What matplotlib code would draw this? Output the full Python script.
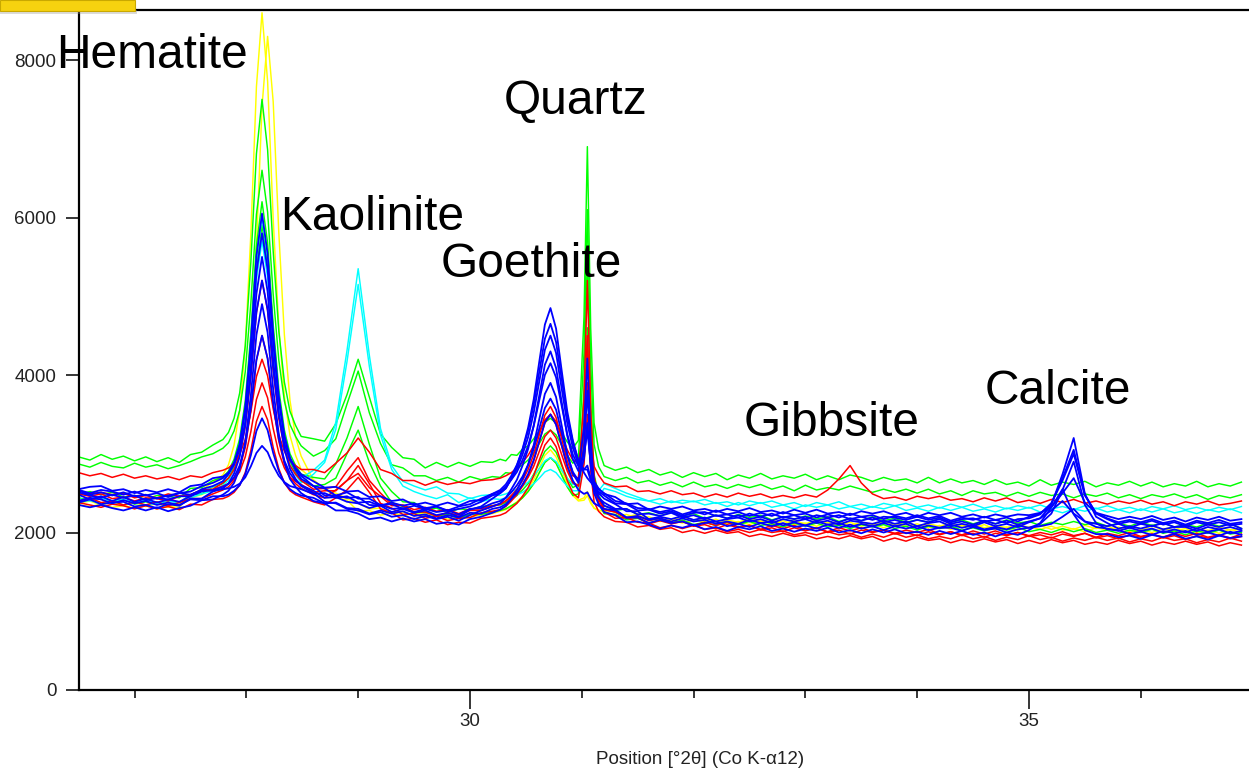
import numpy as np
import matplotlib
matplotlib.use('Agg')
import matplotlib.pyplot as plt
from matplotlib.patches import Rectangle
from matplotlib.ticker import MultipleLocator, FixedLocator

plt.rcParams['font.family'] = ['Liberation Sans', 'DejaVu Sans']

# scan positions (deg 2theta, Co K-alpha), finer steps across the peaks
two_theta = np.concatenate([
    np.round(np.arange(26.5, 27.75, 0.1), 2),
    np.round(np.arange(27.79, 28.5, 0.05), 2),
    np.round(np.arange(28.6, 30.25, 0.1), 2),
    np.round(np.arange(30.27, 31.0, 0.05), 2),
    [31.02, 31.05, 31.08, 31.11, 31.15],
    np.round(np.arange(31.2, 36.95, 0.1), 2),
])

# ---- counts, one list per pattern ----
blue_1 = [2480, 2420, 2460, 2400, 2450, 2390, 2430, 2380, 2420, 2390, 2460, 2550, 2590,
          2650, 2740, 2860, 3120, 3590, 4420, 5510, 6050, 5540, 4530, 3730, 3230, 2940, 2790, 2680,
          2590, 2470, 2470, 2440, 2450, 2350, 2340, 2260, 2300, 2250, 2280, 2220, 2250, 2200, 2290, 2330, 2430,
          2500, 2560, 2690, 2850, 3060, 3330, 3690, 4170, 4640, 4850, 4590, 4060, 3540, 3170, 2910,
          2800, 2800, 2660, 2560, 2500,
          2430, 2360, 2270, 2270, 2170, 2200, 2170, 2210, 2160, 2190,
          2140, 2170, 2190, 2140, 2170, 2120, 2170, 2140, 2170, 2120,
          2150, 2100, 2150, 2130, 2110, 2150, 2110, 2140, 2080, 2120,
          2140, 2080, 2110, 2080, 2130, 2080, 2110, 2070, 2130, 2180,
          2350, 2740, 3200, 2490, 2200, 2120, 2050, 2080, 2050, 2090,
          2040, 2070, 2070, 2020, 2070, 2040, 2070, 2030]
blue_2 = [2530, 2480, 2510, 2470, 2510, 2460, 2480, 2430, 2470, 2500, 2520, 2590, 2630,
          2690, 2760, 2890, 3120, 3550, 4310, 5300, 5800, 5340, 4410, 3680, 3220, 2950, 2820, 2720,
          2590, 2560, 2470, 2510, 2430, 2430, 2350, 2360, 2300, 2340, 2300, 2330, 2270, 2300, 2330, 2390, 2470,
          2500, 2560, 2680, 2810, 2990, 3210, 3520, 3920, 4320, 4500, 4280, 3830, 3390, 3080, 2860,
          2800, 2850, 2690, 2580, 2520,
          2470, 2370, 2360, 2280, 2290, 2240, 2270, 2210, 2250, 2260,
          2210, 2230, 2190, 2240, 2200, 2240, 2190, 2220, 2170, 2220,
          2190, 2220, 2170, 2200, 2160, 2200, 2190, 2160, 2200, 2160,
          2190, 2130, 2170, 2180, 2140, 2160, 2120, 2170, 2180, 2230,
          2370, 2690, 3050, 2480, 2240, 2170, 2110, 2140, 2110, 2150,
          2100, 2130, 2080, 2130, 2100, 2130, 2090, 2110]
blue_3 = [2380, 2420, 2360, 2380, 2390, 2330, 2350, 2310, 2360, 2340, 2430, 2430, 2520,
          2560, 2620, 2750, 2960, 3370, 4090, 5030, 5500, 5060, 4190, 3500, 3060, 2810, 2680, 2590,
          2500, 2390, 2370, 2300, 2280, 2230, 2260, 2200, 2220, 2170, 2210, 2170, 2200, 2150, 2220, 2280, 2330,
          2370, 2440, 2550, 2670, 2850, 3060, 3360, 3740, 4130, 4300, 4090, 3660, 3230, 2930, 2780,
          3340, 4210, 3180, 2630, 2450,
          2340, 2290, 2190, 2190, 2120, 2160, 2120, 2140, 2090, 2120,
          2140, 2080, 2110, 2070, 2120, 2080, 2120, 2070, 2090, 2050,
          2100, 2060, 2100, 2050, 2080, 2030, 2080, 2050, 2080, 2030,
          2060, 2060, 2020, 2070, 2030, 2050, 2000, 2040, 2060, 2110,
          2240, 2540, 2900, 2350, 2120, 2040, 2030, 1980, 2010, 1970,
          2020, 1990, 2020, 1970, 2000, 1960, 2010, 1970]
blue_4 = [2550, 2580, 2590, 2530, 2550, 2500, 2540, 2510, 2550, 2510, 2590, 2610, 2690,
          2710, 2760, 2870, 3050, 3400, 4010, 4800, 5200, 4830, 4090, 3500, 3130, 2920, 2820, 2740,
          2650, 2570, 2580, 2520, 2530, 2450, 2460, 2400, 2420, 2350, 2380, 2340, 2380, 2340, 2400, 2410, 2490,
          2520, 2580, 2670, 2770, 2920, 3100, 3350, 3680, 4000, 4150, 3970, 3610, 3250, 2990, 2840,
          2990, 3290, 2880, 2650, 2560,
          2490, 2450, 2360, 2370, 2290, 2330, 2300, 2330, 2280, 2300,
          2260, 2300, 2270, 2310, 2260, 2280, 2240, 2290, 2250, 2290,
          2240, 2260, 2220, 2270, 2240, 2270, 2220, 2250, 2200, 2250,
          2220, 2250, 2200, 2230, 2190, 2230, 2200, 2230, 2220, 2250,
          2320, 2500, 2690, 2380, 2250, 2210, 2170, 2200, 2170, 2210,
          2160, 2190, 2140, 2190, 2160, 2200, 2150, 2170]
blue_5 = [2350, 2320, 2350, 2310, 2280, 2320, 2280, 2320, 2270, 2310, 2340, 2410, 2420,
          2480, 2530, 2630, 2810, 3150, 3740, 4510, 4900, 4540, 3820, 3250, 2890, 2680, 2580, 2500,
          2400, 2370, 2280, 2280, 2240, 2170, 2190, 2140, 2180, 2140, 2170, 2110, 2130, 2100, 2170, 2200, 2250,
          2290, 2340, 2430, 2540, 2680, 2860, 3110, 3440, 3760, 3900, 3720, 3360, 3000, 2750, 2630,
          3090, 3800, 2960, 2500, 2360,
          2260, 2220, 2130, 2140, 2100, 2050, 2090, 2060, 2100, 2040,
          2070, 2020, 2070, 2040, 2080, 2020, 2050, 2010, 2050, 2020,
          2060, 2000, 2030, 1990, 2040, 2000, 2040, 1990, 2010, 1970,
          2020, 1980, 2020, 1970, 2000, 1950, 2000, 1970, 2030, 2120,
          2320, 2550, 2230, 2030, 1980, 1980, 1940, 1960, 1920, 1970,
          1940, 1980, 1920, 1950, 1910, 1960, 1930, 1950]
blue_6 = [2510, 2470, 2440, 2480, 2440, 2470, 2410, 2440, 2420, 2460, 2460, 2520, 2540,
          2580, 2620, 2700, 2850, 3110, 3580, 4190, 4500, 4210, 3640, 3190, 2910, 2750, 2660, 2600,
          2530, 2440, 2450, 2390, 2370, 2310, 2350, 2300, 2310, 2260, 2300, 2260, 2280, 2230, 2300, 2310, 2370,
          2400, 2440, 2510, 2600, 2710, 2860, 3060, 3320, 3580, 3700, 3560, 3270, 2980, 2770, 2660,
          2940, 3390, 2840, 2540, 2440,
          2380, 2300, 2300, 2230, 2240, 2210, 2250, 2190, 2220, 2170,
          2220, 2180, 2220, 2170, 2200, 2150, 2200, 2170, 2200, 2150,
          2180, 2130, 2180, 2150, 2190, 2130, 2160, 2120, 2160, 2130,
          2170, 2110, 2140, 2100, 2150, 2110, 2150, 2100, 2140, 2180,
          2280, 2400, 2240, 2140, 2110, 2080, 2110, 2060, 2110, 2080,
          2120, 2070, 2090, 2050, 2100, 2070, 2110, 2050]
blue_7 = [2400, 2440, 2420, 2370, 2410, 2370, 2400, 2350, 2380, 2350, 2420, 2410, 2460,
          2460, 2480, 2530, 2600, 2740, 2980, 3290, 3450, 3300, 3010, 2780, 2630, 2550, 2500, 2470,
          2440, 2370, 2380, 2310, 2300, 2240, 2280, 2240, 2270, 2210, 2230, 2180, 2220, 2190, 2250, 2240, 2300,
          2320, 2360, 2430, 2500, 2610, 2740, 2920, 3160, 3400, 3500, 3370, 3110, 2850, 2660, 2540,
          2490, 2510, 2430, 2370, 2340,
          2300, 2280, 2190, 2210, 2160, 2180, 2140, 2180, 2140, 2160,
          2110, 2140, 2110, 2160, 2120, 2140, 2090, 2130, 2090, 2140,
          2100, 2120, 2070, 2110, 2080, 2120, 2080, 2110, 2050, 2090,
          2060, 2100, 2060, 2090, 2040, 2070, 2040, 2090, 2060, 2080,
          2110, 2200, 2300, 2140, 2070, 2050, 2020, 2060, 2020, 2050,
          2000, 2040, 2000, 2050, 2010, 2040, 1990, 2020]
blue_8 = [2540, 2500, 2540, 2520, 2480, 2520, 2470, 2500, 2450, 2500, 2480, 2540, 2530,
          2550, 2560, 2580, 2620, 2700, 2840, 3010, 3100, 3020, 2850, 2720, 2640, 2590, 2570, 2550,
          2490, 2500, 2440, 2460, 2380, 2390, 2340, 2380, 2340, 2370, 2310, 2330, 2280, 2330, 2360, 2430, 2490,
          2540, 2610, 2720, 2860, 3050, 3290, 3620, 4040, 4460, 4650, 4420, 3950, 3480, 3150, 2910,
          2760, 2690, 2640, 2590, 2550,
          2500, 2400, 2370, 2310, 2300, 2260, 2290, 2230, 2270, 2230,
          2280, 2230, 2260, 2210, 2250, 2210, 2260, 2220, 2240, 2190,
          2230, 2190, 2240, 2200, 2220, 2170, 2210, 2180, 2220, 2180,
          2210, 2150, 2190, 2160, 2200, 2160, 2190, 2140, 2200, 2240,
          2370, 2660, 3000, 2470, 2250, 2180, 2130, 2160, 2130, 2170,
          2120, 2150, 2100, 2150, 2120, 2160, 2110, 2130]

red_1 = [2760, 2720, 2750, 2700, 2740, 2690, 2720, 2680, 2710, 2670, 2720, 2700, 2760,
         2790, 2820, 2880, 2990, 3180, 3530, 3980, 4200, 3990, 3570, 3240, 3030, 2910, 2850, 2800,
         2800, 2760, 2880, 3010, 3200, 3020, 2800, 2750, 2660, 2660, 2600, 2650, 2610, 2640, 2620, 2660, 2670,
         2690, 2720, 2760, 2820, 2890, 2980, 3100, 3270, 3430, 3500, 3410, 3230, 3050, 2920, 2880,
         3290, 3900, 3210, 2840, 2730,
         2630, 2580, 2590, 2520, 2530, 2490, 2530, 2480, 2500, 2450,
         2490, 2450, 2500, 2460, 2490, 2440, 2470, 2440, 2480, 2450,
         2540, 2680, 2850, 2630, 2490, 2430, 2450, 2410, 2460, 2430,
         2460, 2410, 2430, 2390, 2440, 2400, 2440, 2380, 2410, 2370,
         2420, 2380, 2420, 2370, 2400, 2360, 2400, 2370, 2410, 2360,
         2390, 2340, 2390, 2360, 2400, 2350, 2370, 2400]
red_2 = [2490, 2460, 2490, 2430, 2450, 2400, 2440, 2430, 2400, 2460, 2480, 2540, 2550,
         2630, 2690, 2800, 2990, 3340, 3970, 4790, 5200, 4820, 4050, 3450, 3070, 2850, 2740, 2660,
         2550, 2560, 2580, 2780, 2950, 2660, 2500, 2360, 2340, 2260, 2260, 2210, 2250, 2220, 2280, 2280, 2330,
         2360, 2400, 2470, 2550, 2660, 2800, 2990, 3240, 3490, 3600, 3460, 3190, 2910, 2720, 2690,
         3710, 5200, 3560, 2710, 2460,
         2300, 2260, 2180, 2190, 2110, 2150, 2110, 2140, 2080, 2100,
         2050, 2100, 2060, 2090, 2030, 2060, 2010, 2060, 2020, 2060,
         2000, 2030, 1980, 2030, 2000, 2030, 1980, 2000, 1960, 2010,
         1970, 2010, 1960, 1990, 1940, 1990, 1960, 2000, 1950, 1970,
         1930, 1980, 1950, 1990, 1930, 1960, 1920, 1970, 1940, 1980,
         1930, 1960, 1910, 1960, 1930, 1970, 1920, 1950]
red_3 = [2400, 2440, 2380, 2400, 2350, 2390, 2350, 2390, 2340, 2380, 2430, 2430, 2490,
         2540, 2580, 2660, 2810, 3080, 3560, 4190, 4500, 4210, 3620, 3160, 2870, 2700, 2620, 2560,
         2480, 2440, 2540, 2660, 2850, 2620, 2370, 2310, 2230, 2240, 2180, 2210, 2150, 2180, 2190, 2250, 2270,
         2290, 2330, 2400, 2480, 2590, 2720, 2910, 3150, 3390, 3500, 3370, 3100, 2830, 2640, 2590,
         3370, 4500, 3240, 2580, 2380,
         2260, 2180, 2190, 2130, 2120, 2060, 2090, 2050, 2090, 2040,
         2060, 2010, 2040, 2000, 2040, 2000, 2020, 1970, 2000, 1970,
         2010, 1970, 1990, 1940, 1980, 1940, 1990, 1940, 1970, 1920,
         1950, 1920, 1970, 1920, 1950, 1900, 1940, 1910, 1960, 1910,
         1940, 1890, 1930, 1900, 1940, 1900, 1930, 1880, 1920, 1890,
         1940, 1900, 1920, 1870, 1910, 1880, 1930, 1890]
red_4 = [2540, 2490, 2510, 2480, 2500, 2440, 2470, 2440, 2490, 2460, 2480, 2540, 2540,
         2590, 2620, 2680, 2770, 2960, 3280, 3690, 3900, 3710, 3320, 3010, 2820, 2700, 2650, 2610,
         2510, 2530, 2530, 2660, 2750, 2570, 2460, 2340, 2350, 2290, 2320, 2270, 2290, 2240, 2300, 2300, 2340,
         2360, 2400, 2450, 2510, 2590, 2700, 2840, 3030, 3220, 3300, 3200, 2990, 2780, 2630, 2590,
         3120, 3900, 3020, 2560, 2420,
         2290, 2260, 2180, 2210, 2150, 2180, 2120, 2140, 2090, 2130,
         2090, 2130, 2070, 2090, 2040, 2090, 2050, 2090, 2030, 2060,
         2010, 2060, 2020, 2060, 2010, 2030, 1990, 2030, 2000, 2040,
         1980, 2010, 1970, 2020, 1980, 2020, 1970, 2000, 1960, 2000,
         1970, 2010, 1960, 1990, 1940, 1990, 1960, 2000, 1950, 1980,
         1940, 1990, 1950, 1990, 1940, 1970, 1930, 1980]
red_5 = [2380, 2350, 2320, 2360, 2340, 2300, 2340, 2300, 2330, 2290, 2360, 2350, 2420,
         2430, 2460, 2510, 2600, 2760, 3040, 3410, 3600, 3430, 3080, 2810, 2630, 2530, 2480, 2450,
         2390, 2350, 2440, 2540, 2700, 2510, 2300, 2250, 2160, 2180, 2130, 2160, 2100, 2130, 2120, 2180, 2200,
         2220, 2250, 2310, 2370, 2460, 2570, 2720, 2920, 3110, 3200, 3090, 2870, 2660, 2500, 2440,
         2870, 3500, 2780, 2390, 2270,
         2200, 2140, 2130, 2070, 2090, 2040, 2060, 2000, 2030, 1990,
         2030, 1990, 2010, 1950, 1980, 1950, 1990, 1950, 1970, 1920,
         1950, 1920, 1960, 1920, 1950, 1890, 1930, 1890, 1940, 1900,
         1920, 1870, 1910, 1880, 1920, 1880, 1910, 1860, 1900, 1860,
         1910, 1870, 1900, 1850, 1880, 1850, 1900, 1860, 1890, 1840,
         1880, 1850, 1890, 1850, 1880, 1830, 1870, 1840]

green_1 = [2960, 2920, 2990, 2930, 2970, 2910, 2960, 2900, 2950, 2890, 2990, 3020, 3110,
           3180, 3270, 3450, 3770, 4370, 5430, 6810, 7500, 6860, 5570, 4560, 3910, 3540, 3360, 3220,
           3190, 3160, 3380, 3750, 4200, 3720, 3250, 3080, 2950, 2930, 2820, 2890, 2830, 2890, 2840, 2900, 2890,
           2930, 2910, 2990, 2980, 3060, 3100, 3190, 3290, 3400, 3450, 3390, 3270, 3150, 3070, 3170,
           4740, 6900, 4590, 3390, 3060,
           2850, 2790, 2830, 2760, 2800, 2730, 2770, 2700, 2760, 2710,
           2750, 2670, 2730, 2690, 2750, 2680, 2720, 2690, 2740, 2670,
           2720, 2670, 2730, 2700, 2650, 2700, 2660, 2680, 2630, 2700,
           2630, 2680, 2630, 2660, 2610, 2670, 2610, 2640, 2590, 2670,
           2600, 2640, 2610, 2650, 2580, 2630, 2600, 2650, 2590, 2640,
           2580, 2620, 2590, 2650, 2580, 2620, 2590, 2640]
green_2 = [2870, 2830, 2890, 2840, 2820, 2880, 2830, 2860, 2810, 2850, 2900, 2960, 3000,
           3070, 3140, 3290, 3550, 4040, 4910, 6040, 6600, 6070, 5020, 4190, 3670, 3370, 3220, 3100,
           2970, 3040, 3190, 3630, 4050, 3520, 3130, 2860, 2820, 2720, 2720, 2660, 2700, 2640, 2710, 2670, 2710,
           2700, 2760, 2750, 2810, 2860, 2920, 3010, 3130, 3250, 3300, 3240, 3110, 2980, 2880, 2950,
           4280, 6100, 4140, 3120, 2840,
           2710, 2660, 2700, 2630, 2660, 2600, 2640, 2580, 2640, 2580,
           2610, 2560, 2610, 2570, 2610, 2550, 2590, 2530, 2600, 2540,
           2570, 2540, 2590, 2550, 2510, 2550, 2510, 2550, 2500, 2550,
           2490, 2530, 2470, 2530, 2490, 2510, 2460, 2510, 2460, 2510,
           2470, 2490, 2440, 2490, 2460, 2500, 2440, 2480, 2430, 2480,
           2450, 2490, 2440, 2480, 2420, 2470, 2440, 2480]
green_3 = [2480, 2520, 2480, 2510, 2450, 2470, 2420, 2470, 2460, 2440, 2560, 2570, 2660,
           2700, 2780, 2930, 3190, 3670, 4530, 5640, 6200, 5680, 4640, 3820, 3300, 3000, 2850, 2740,
           2700, 2680, 2870, 3200, 3600, 3120, 2690, 2520, 2390, 2380, 2290, 2310, 2250, 2300, 2290, 2330, 2340,
           2350, 2380, 2420, 2470, 2540, 2620, 2740, 2880, 3030, 3100, 3020, 2850, 2690, 2570, 2610,
           3820, 5500, 3690, 2740, 2480,
           2340, 2280, 2300, 2230, 2250, 2210, 2260, 2210, 2240, 2180,
           2220, 2180, 2230, 2190, 2220, 2160, 2200, 2170, 2210, 2170,
           2200, 2140, 2180, 2150, 2200, 2150, 2180, 2130, 2160, 2130,
           2180, 2130, 2160, 2110, 2150, 2110, 2160, 2120, 2140, 2090,
           2130, 2100, 2140, 2100, 2130, 2080, 2120, 2080, 2130, 2090,
           2120, 2070, 2100, 2070, 2120, 2080, 2110, 2050]
green_4 = [2440, 2410, 2450, 2400, 2420, 2360, 2390, 2360, 2410, 2380, 2480, 2490, 2580,
           2620, 2690, 2830, 3070, 3530, 4330, 5380, 5900, 5410, 4430, 3670, 3180, 2900, 2760, 2650,
           2590, 2610, 2690, 3000, 3300, 2890, 2590, 2380, 2330, 2250, 2260, 2210, 2230, 2180, 2230, 2230, 2260,
           2280, 2300, 2340, 2380, 2440, 2520, 2620, 2760, 2890, 2950, 2880, 2730, 2580, 2470, 2490,
           3370, 4600, 3260, 2560, 2370,
           2240, 2230, 2160, 2180, 2120, 2160, 2120, 2160, 2100, 2130,
           2090, 2130, 2100, 2140, 2090, 2110, 2070, 2120, 2080, 2120,
           2070, 2090, 2050, 2100, 2070, 2100, 2050, 2080, 2030, 2080,
           2050, 2080, 2030, 2060, 2020, 2060, 2030, 2070, 2010, 2040,
           2000, 2050, 2010, 2050, 2000, 2030, 1990, 2030, 2000, 2040,
           1990, 2020, 1970, 2020, 1990, 2030, 1980, 2000]

cyan_1 = [2430, 2400, 2440, 2390, 2420, 2380, 2410, 2370, 2400, 2380, 2470, 2520, 2580,
          2650, 2730, 2870, 3120, 3580, 4400, 5470, 6000, 5500, 4510, 3720, 3220, 2940, 2800, 2690,
          2790, 2920, 3400, 4310, 5350, 4250, 3320, 2850, 2650, 2590, 2540, 2580, 2500, 2490, 2430, 2470, 2480,
          2470, 2490, 2520, 2550, 2590, 2640, 2720, 2810, 2910, 2950, 2900, 2790, 2690, 2610, 2610,
          3120, 3820, 3050, 2640, 2530,
          2620, 2560, 2500, 2450, 2400, 2430, 2380, 2410, 2390, 2420,
          2370, 2390, 2350, 2400, 2370, 2400, 2350, 2380, 2330, 2380,
          2350, 2390, 2330, 2360, 2320, 2370, 2340, 2370, 2320, 2350,
          2310, 2360, 2320, 2360, 2310, 2340, 2300, 2340, 2310, 2350,
          2300, 2330, 2290, 2340, 2300, 2340, 2290, 2320, 2280, 2330,
          2300, 2340, 2290, 2320, 2280, 2320, 2290, 2330]
cyan_2 = [2380, 2410, 2360, 2400, 2350, 2390, 2340, 2380, 2350, 2390, 2440, 2490, 2530,
          2600, 2660, 2800, 3030, 3460, 4220, 5210, 5700, 5240, 4310, 3590, 3130, 2860, 2730, 2630,
          2740, 2890, 3310, 4170, 5150, 4110, 3240, 2800, 2590, 2520, 2470, 2430, 2480, 2380, 2440, 2390, 2430,
          2420, 2440, 2460, 2480, 2510, 2560, 2620, 2690, 2770, 2800, 2760, 2670, 2590, 2530, 2530,
          2900, 3430, 2850, 2540, 2450,
          2560, 2520, 2460, 2420, 2400, 2360, 2400, 2370, 2400, 2350,
          2380, 2330, 2380, 2340, 2380, 2320, 2350, 2300, 2350, 2320,
          2350, 2300, 2330, 2290, 2330, 2300, 2340, 2280, 2310, 2270,
          2320, 2280, 2320, 2270, 2300, 2260, 2310, 2280, 2320, 2260,
          2290, 2250, 2300, 2270, 2310, 2260, 2290, 2250, 2300, 2260,
          2300, 2250, 2280, 2240, 2290, 2260, 2300, 2250]

yellow_1 = [2350, 2330, 2360, 2320, 2340, 2310, 2340, 2300, 2330, 2320, 2470, 2540, 2640,
            2730, 2860, 3110, 3550, 4360, 5790, 7660, 8600, 7730, 5980, 4610, 3730, 3230, 2980, 2800,
            2670, 2550, 2500, 2430, 2370, 2300, 2310, 2240, 2260, 2220, 2250, 2210, 2230, 2190, 2230, 2220, 2250,
            2280, 2300, 2330, 2380, 2440, 2520, 2620, 2760, 2890, 2950, 2880, 2730, 2580, 2470, 2400,
            2410, 2470, 2370, 2310, 2280,
            2280, 2260, 2200, 2230, 2160, 2190, 2160, 2200, 2160, 2180,
            2130, 2160, 2130, 2180, 2140, 2160, 2110, 2150, 2110, 2160,
            2120, 2140, 2090, 2130, 2100, 2140, 2100, 2130, 2070, 2110,
            2080, 2120, 2080, 2110, 2060, 2090, 2060, 2110, 2060, 2090,
            2040, 2080, 2040, 2090, 2050, 2080, 2030, 2060, 2030, 2080,
            2040, 2070, 2010, 2050, 2020, 2070, 2030, 2050]
yellow_2 = [2370, 2400, 2350, 2390, 2340, 2380, 2330, 2370, 2320, 2360, 2440, 2480, 2550,
            2650, 2740, 2850, 3090, 3510, 4270, 5640, 7410, 8300, 7470, 5810, 4510, 3680, 3210, 2970,
            2660, 2560, 2450, 2410, 2270, 2280, 2220, 2250, 2210, 2250, 2200, 2220, 2170, 2200, 2190, 2230, 2240,
            2270, 2290, 2340, 2390, 2460, 2550, 2670, 2820, 2980, 3050, 2960, 2790, 2620, 2490, 2410,
            2440, 2520, 2390, 2310, 2280,
            2270, 2210, 2230, 2180, 2200, 2140, 2160, 2120, 2160, 2130,
            2170, 2110, 2140, 2100, 2150, 2110, 2150, 2100, 2120, 2080,
            2130, 2090, 2130, 2080, 2110, 2060, 2110, 2080, 2110, 2060,
            2090, 2040, 2090, 2060, 2100, 2040, 2070, 2030, 2070, 2040,
            2080, 2030, 2050, 2010, 2060, 2030, 2070, 2010, 2040, 2000,
            2050, 2020, 2050, 2000, 2030, 1990, 2040, 2000]

# phase labels and where they sit (deg 2theta, counts at baseline)
phase_names = ['Hematite', 'Kaolinite', 'Goethite', 'Quartz', 'Gibbsite', 'Calcite']
phase_x = [26.295, 28.30, 29.74, 30.30, 32.45, 34.60]
phase_y = [7900, 5840, 5245, 7315, 3225, 3630]

groups = [
    ('#FFFF00', 1.05, [yellow_1, yellow_2]),
    ('#00FF00', 1.05, [green_1, green_2, green_3, green_4]),
    ('#00FFFF', 1.05, [cyan_1, cyan_2]),
    ('#FF0000', 1.1, [red_1, red_2, red_3, red_4, red_5]),
    ('#0000FF', 1.3, [blue_1, blue_2, blue_3, blue_4, blue_5, blue_6, blue_7, blue_8]),
]

fig = plt.figure(figsize=(12.49, 7.69), dpi=100)
ax = fig.add_axes([79 / 1249, 79 / 769, 1170 / 1249, 680 / 769])

for color, width, traces in groups:
    for counts in traces:
        ax.plot(two_theta, counts, color=color, lw=width)

ax.set_xlim(26.503, 36.968)
ax.set_ylim(0, 8635)

for side in ['left', 'bottom', 'top']:
    ax.spines[side].set_linewidth(1.6)
ax.spines['right'].set_visible(False)

ax.xaxis.set_major_locator(FixedLocator([30, 35]))
ax.xaxis.set_minor_locator(MultipleLocator(1))
ax.yaxis.set_major_locator(FixedLocator([0, 2000, 4000, 6000, 8000]))
ax.tick_params(axis='x', which='major', length=13.5, width=1.1, pad=3,
               labelsize=13.5, labelcolor='#222222')
ax.tick_params(axis='x', which='minor', length=5.5, width=1.1)
ax.tick_params(axis='y', which='major', length=9.3, width=1.1, pad=7,
               labelsize=13.5, labelcolor='#222222')

for name, px, py in zip(phase_names, phase_x, phase_y):
    ax.text(px, py, name, fontsize=34.5, ha='left', va='baseline', color='black', zorder=5)

fig.text(700 / 1249, 1 - 759 / 769, 'Position [°2θ] (Co K-α12)', ha='center', va='center',
         fontsize=13.5, color='#222222')

# slide header tab in the top-left corner
fig.patches.append(Rectangle((0.0, 1 - 14 / 769), 137 / 1249, 4 / 769, transform=fig.transFigure,
                             facecolor='#9a9a9a', alpha=0.35, edgecolor='none', zorder=9))
fig.patches.append(Rectangle((0.0, 1 - 10.5 / 769), 135 / 1249, 10.5 / 769, transform=fig.transFigure,
                             facecolor='#F6D20F', edgecolor='#C9A800', lw=0.8, zorder=10))

fig.savefig('out.png', dpi=100)
